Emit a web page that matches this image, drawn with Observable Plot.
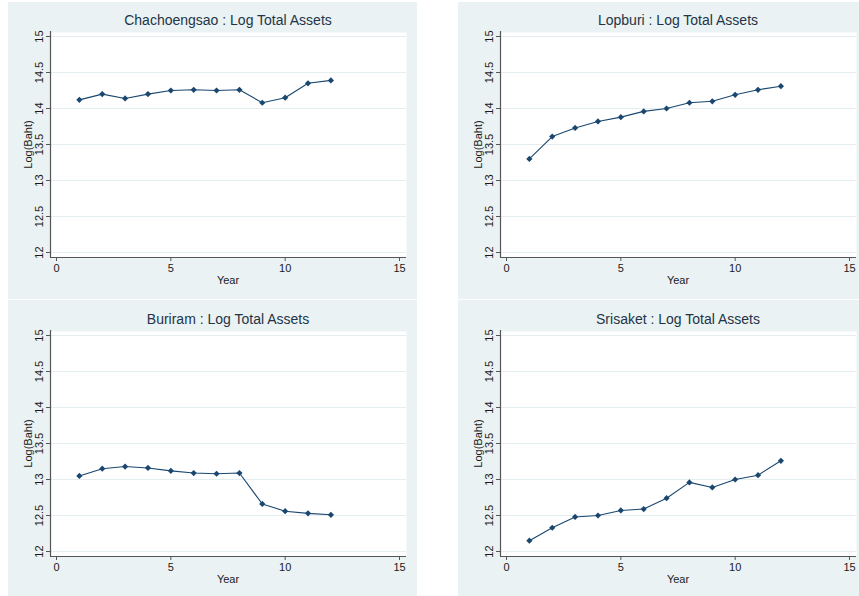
<!DOCTYPE html>
<html>
<head>
<meta charset="utf-8">
<script src="https://cdn.jsdelivr.net/npm/d3@7"></script>
<script src="https://cdn.jsdelivr.net/npm/@observablehq/plot@0.6"></script>
<style>
  html, body { margin: 0; padding: 0; background: #ffffff; }
  #wrap { position: relative; width: 859px; height: 596px; overflow: hidden; font-family: "Liberation Sans", Arial, sans-serif; }
  .panel { position: absolute; background: #eaf2f3; overflow: visible; }
  .panel svg { position: absolute; left: 0; }
</style>
</head>
<body>
<div id="wrap"></div>
<script>
// ---- data ----
const years = [1, 2, 3, 4, 5, 6, 7, 8, 9, 10, 11, 12];
const chachoengsao = [14.12, 14.20, 14.14, 14.20, 14.25, 14.26, 14.25, 14.26, 14.08, 14.15, 14.35, 14.39];
const lopburi      = [13.30, 13.61, 13.73, 13.82, 13.88, 13.96, 14.00, 14.08, 14.10, 14.19, 14.26, 14.31];
const buriram      = [13.05, 13.15, 13.18, 13.16, 13.12, 13.09, 13.08, 13.09, 12.66, 12.56, 12.53, 12.51];
const srisaket     = [12.15, 12.33, 12.48, 12.50, 12.57, 12.59, 12.74, 12.96, 12.89, 13.00, 13.06, 13.26];
const titles = ["Chachoengsao : Log Total Assets", "Lopburi : Log Total Assets", "Buriram : Log Total Assets", "Srisaket : Log Total Assets"];
const xTicks = [0, 5, 10, 15];
const yTicks = [12, 12.5, 13, 13.5, 14, 14.5, 15];
const xLabel = "Year";
const yLabel = "Log(Baht)";

const series = [chachoengsao, lopburi, buriram, srisaket];
const panelBoxes = [
  {left: 8, top: 2, width: 409, height: 297, svgTop: 0},
  {left: 458, top: 2, width: 401, height: 297, svgTop: 0},
  {left: 8, top: 300, width: 409, height: 296, svgTop: 1},
  {left: 458, top: 300, width: 401, height: 296, svgTop: 1}
];

const navy = "#1a476f";
const axisGray = "#555555";
const textColor = "#1a1a1a";
const titleColor = "#243447";
const gridColor = "#e4edef";
const font = "Liberation Sans, Arial, sans-serif";

const wrap = document.getElementById("wrap");

series.forEach((vals, i) => {
  const data = years.map((y, j) => ({year: y, value: vals[j]}));
  const box = panelBoxes[i];
  const div = document.createElement("div");
  div.className = "panel";
  div.style.left = box.left + "px";
  div.style.top = box.top + "px";
  div.style.width = box.width + "px";
  div.style.height = box.height + "px";

  const chart = Plot.plot({
    width: 401,
    height: 296,
    marginLeft: 48,
    marginRight: 10,
    marginTop: 34,
    marginBottom: 46,
    style: {background: "transparent", fontFamily: font, overflow: "visible"},
    x: {domain: [0, 15], axis: null},
    y: {domain: [12, 15], axis: null},
    marks: [
      Plot.frame({fill: "white", stroke: null, insetLeft: -6, insetRight: -7, insetTop: -4, insetBottom: -5}),
      Plot.ruleY(yTicks, {stroke: gridColor, strokeWidth: 1, insetLeft: -6, insetRight: -7}),
      Plot.ruleX([0], {stroke: axisGray, strokeWidth: 1.2, dx: -6, insetTop: -5, insetBottom: -5}),
      Plot.ruleY([12], {stroke: axisGray, strokeWidth: 1.2, dy: 5, insetLeft: -6, insetRight: -7}),
      Plot.axisY(yTicks, {anchor: "left", label: null, tickSize: 4, tickPadding: 4, tickRotate: -90, dx: -6,
        fontSize: 11, stroke: axisGray, fill: textColor, tickFormat: d => String(d)}),
      Plot.axisX(xTicks, {anchor: "bottom", label: null, tickSize: 4, tickPadding: 3, dy: 5,
        fontSize: 11, stroke: axisGray, fill: textColor, tickFormat: d => String(d)}),
      Plot.line(data, {x: "year", y: "value", stroke: navy, strokeWidth: 1.1}),
      Plot.dot(data, {x: "year", y: "value", symbol: "diamond2", r: 2.8, fill: navy, stroke: null}),
      Plot.text([titles[i]], {text: d => d, frameAnchor: "top", dy: -16, lineAnchor: "middle", textAnchor: "middle", fontSize: 14, fill: titleColor}),
      Plot.text([xLabel], {text: d => d, frameAnchor: "bottom", dy: 28, lineAnchor: "middle", textAnchor: "middle", fontSize: 11, fill: textColor}),
      Plot.text([yLabel], {text: d => d, frameAnchor: "left", dx: -28.5, rotate: -90, lineAnchor: "middle", textAnchor: "middle", fontSize: 11, fill: textColor})
    ]
  });
  chart.style.top = box.svgTop + "px";
  div.appendChild(chart);
  wrap.appendChild(div);
});
</script>
</body>
</html>
